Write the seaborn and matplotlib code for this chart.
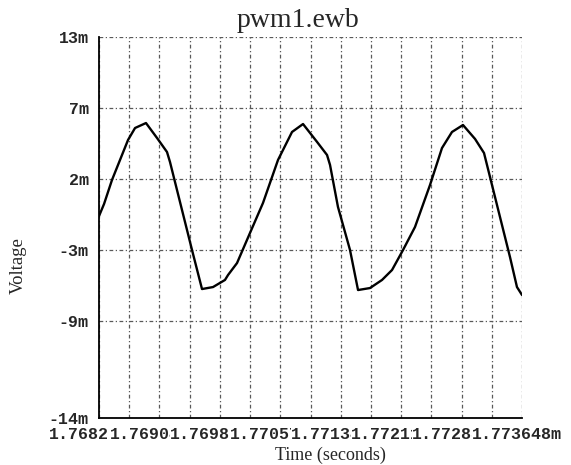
import numpy as np
import seaborn as sns
import matplotlib.pyplot as plt
import matplotlib.transforms as mtransforms

# waveform (time in s, voltage in mV)
time = [1.768272, 1.768336, 1.768437, 1.768641, 1.768730, 1.768869, 1.769009,
        1.769136, 1.769174, 1.769454, 1.769581, 1.769721, 1.769873, 1.769912,
        1.770026, 1.770191, 1.770356, 1.770547, 1.770725, 1.770865, 1.771043,
        1.771170, 1.771208, 1.771309, 1.771462, 1.771564, 1.771716, 1.771869,
        1.771996, 1.772136, 1.772288, 1.772479, 1.772631, 1.772758, 1.772898,
        1.773051, 1.773165, 1.773203, 1.773495, 1.773584, 1.773648]
voltage = [-0.61, 0.24, 1.93, 4.75, 5.59, 5.94, 4.89,
           3.90, 3.20, -3.00, -5.75, -5.61, -5.11, -4.76,
           -3.92, -1.80, 0.31, 3.34, 5.31, 5.87, 4.61,
           3.69, 2.99, 0.03, -3.00, -5.82, -5.68, -5.11,
           -4.41, -3.00, -1.38, 1.58, 4.18, 5.31, 5.80,
           4.82, 3.83, 2.99, -3.49, -5.61, -6.17]

x_ticks = [1.768272, 1.769040, 1.769808, 1.770576, 1.771344, 1.772112, 1.772880, 1.773648]
x_labels = ['1.768272m', '1.769040m', '1.769808m', '1.770576m',
            '1.771344m', '1.772112m', '1.772880m', '1.773648m']
y_ticks = [12, 7, 2, -3, -8, -14.83]
y_labels = ['13m', '7m', '2m', '-3m', '-9m', '-14m']

sns.set_style('white')
fig = plt.figure(figsize=(5.71, 4.65), dpi=100)
ax = fig.add_axes([0.1734, 0.1011, 0.7408, 0.8194])

sns.lineplot(x=time, y=voltage, sort=False, estimator=None, color='black',
             linewidth=1.7, ax=ax)

ax.set_xlim(x_ticks[0], x_ticks[-1])
ax.set_ylim(y_ticks[-1], y_ticks[0])

ax.set_xticks(x_ticks)
ax.set_xticklabels(x_labels, family='Liberation Mono', fontsize=12, fontweight='bold')
minor = [(a + b) / 2 for a, b in zip(x_ticks[:-1], x_ticks[1:])]
ax.set_xticks(minor, minor=True)
ax.set_yticks(y_ticks)
ax.set_yticklabels(y_labels, family='Liberation Mono', fontsize=12, fontweight='bold')
ax.tick_params(axis='both', which='major', direction='inout', length=7, width=1,
               color='black')
ax.tick_params(axis='x', which='major', pad=3)
ax.tick_params(axis='y', which='major', pad=4)
ax.tick_params(axis='x', which='minor', length=0)

# overlapping x labels: later ones paint over earlier ones
shift = mtransforms.ScaledTranslation(-5 / 100, 0, fig.dpi_scale_trans)
for lab in ax.get_xticklabels():
    lab.set_bbox(dict(facecolor='white', edgecolor='none', pad=0))
    lab.set_transform(lab.get_transform() + shift)

ax.grid(True, which='both', color='0.35', linestyle=(0, (3, 2, 1, 2)), linewidth=0.9)
ax.set_axisbelow(True)

for s in ['top', 'right']:
    ax.spines[s].set_visible(False)
for s in ['left', 'bottom']:
    ax.spines[s].set_color('black')
    ax.spines[s].set_linewidth(1.3)

ax.set_xlabel('Time (seconds)', family='Liberation Serif', fontsize=13, va='center')
ax.set_ylabel('Voltage', family='Liberation Serif', fontsize=13.5, va='center')
ax.xaxis.set_label_coords(0.546, -0.097)
ax.yaxis.set_label_coords(-0.19, 0.40)

fig.text(0.522, 0.942, 'pwm1.ewb', family='Liberation Serif', fontsize=20,
         ha='center', va='baseline')

fig.savefig('out.png', dpi=100, facecolor='white')
